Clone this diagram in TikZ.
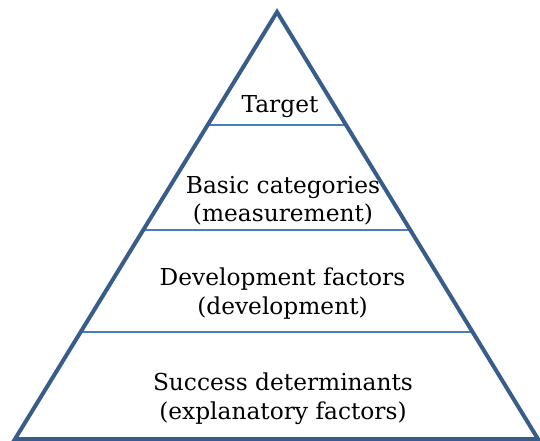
\documentclass[tikz,border=0pt]{standalone}
\usepackage{fontspec}
\setmainfont{DejaVu Serif}
\usetikzlibrary{calc}
\definecolor{edgeblue}{HTML}{385D8A}
\definecolor{tierblue}{HTML}{4A7EBB}
\begin{document}
\begin{tikzpicture}[x=1pt,y=-1pt,
  outline/.style={draw=edgeblue,line width=4pt,line join=miter},
  divider/.style={draw=tierblue,line width=1.4pt},
  tier/.style={align=center,font=\fontsize{23.3}{28.5}\selectfont,inner sep=0pt}]
  \useasboundingbox (0,0) rectangle (540,441);
  % corners of the pyramid
  \coordinate (apex) at (277,12);
  \coordinate (bl) at (15,439);
  \coordinate (br) at (538,439);
  % tier boundaries on each side
  \foreach \n/\t in {one/0.2646,two/0.5105,three/0.7494}{
    \coordinate (l\n) at ($(apex)!\t!(bl)$);
    \coordinate (r\n) at ($(apex)!\t!(br)$);
  }
  \draw[divider] (lone) -- (rone);
  \draw[divider] (ltwo) -- (rtwo);
  \draw[divider] (lthree) -- (rthree);
  \draw[outline] (apex) -- (br) -- (bl) -- cycle;
  % tier labels
  \node[tier] (target) at (280,107) {Target};
  \node[tier] (basic) at (283,200.5) {Basic categories\\(measurement)};
  \node[tier] (devel) at (282.5,293.5) {Development factors\\(development)};
  \node[tier] (success) at (283,398.5) {Success determinants\\(explanatory factors)};
\end{tikzpicture}
\end{document}
